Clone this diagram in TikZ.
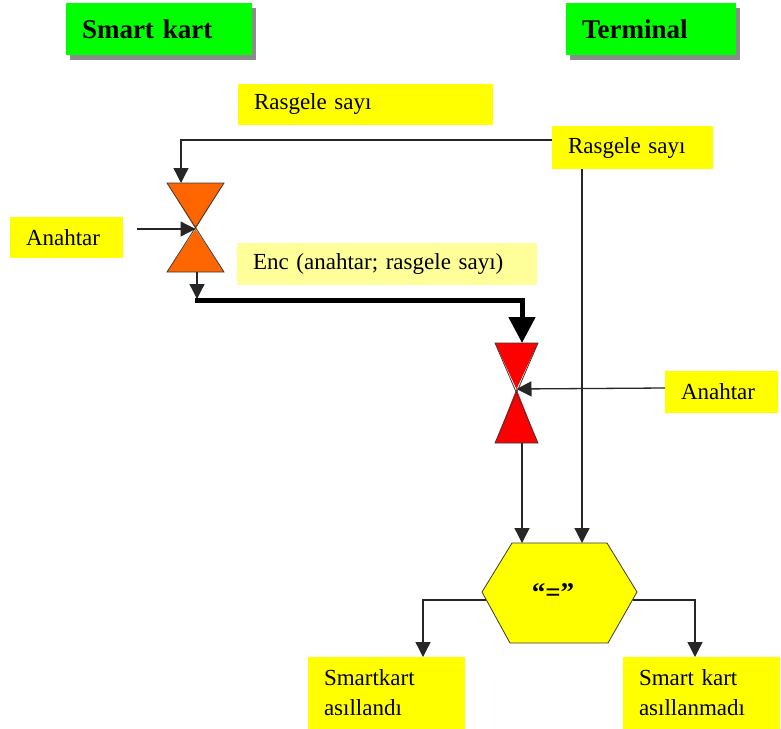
\documentclass[tikz,border=0pt]{standalone}
\usepackage{fontspec}
\setmainfont{Liberation Serif}
\usetikzlibrary{arrows.meta,calc,shadows}
\definecolor{titlegreen}{HTML}{00FF00}
\definecolor{labelyellow}{HTML}{FFFF00}
\definecolor{paleyellow}{HTML}{FFFF99}
\definecolor{encorange}{HTML}{FF6600}
\definecolor{decred}{HTML}{FF0000}
\definecolor{outline}{HTML}{3A3A3A}
\begin{document}
\begin{tikzpicture}[x=1pt,y=-1pt,
  title/.style={anchor=north west, fill=titlegreen, inner xsep=16pt, inner ysep=0pt,
    outer sep=0pt, align=left, font=\fontsize{27}{30}\selectfont\bfseries,
    drop shadow={shadow xshift=4pt, shadow yshift=-5pt, fill=gray!90, opacity=1}},
  label/.style={anchor=north west, fill=labelyellow, inner xsep=16pt, inner ysep=0pt,
    outer sep=0pt, align=left, font=\fontsize{23}{30}\selectfont},
  conn/.style={line width=1.3pt, draw=black!85, -{Triangle[width=15pt,length=15pt]}},
  bold/.style={line width=5pt, draw=black, -{Triangle[width=26pt,length=26pt]}},
  gate/.style={draw=outline, line width=0.8pt, line join=miter}
]
\useasboundingbox (0,0) rectangle (781,728);

% column titles
\node[title, text width=154pt, minimum height=52pt] (smart) at (66,3) {Smart kart};
\node[title, text width=138pt, minimum height=52pt] (term) at (566,3) {Terminal};

% labels
\node[label, text width=223pt, minimum height=41pt] (rnd1) at (238,84) {Rasgele sayı};
\node[label, text width=129pt, minimum height=43pt] (rnd2) at (552,126) {Rasgele sayı};
\node[label, text width=81pt, minimum height=41pt] (key1) at (10,217) {Anahtar};
\node[label, fill=paleyellow, text width=268pt, minimum height=42pt] (enc) at (237,243) {Enc (anahtar; rasgele sayı)};
\node[label, text width=81pt, minimum height=42pt] (key2) at (665,371) {Anahtar};
\node[label, text width=125pt, minimum height=72pt] (ok) at (308,657) {Smartkart\\asıllandı};
\node[label, text width=125pt, minimum height=72pt] (nok) at (623,657) {Smart kart\\asıllanmadı};

% encryption gate (smart card)
\coordinate (encA-c) at (195.5,229);
\coordinate (encA-in) at (181,183);
\coordinate (encA-out) at (197,272);
\fill[encorange] (167,183) -- (224,183) -- (encA-c) -- cycle;
\fill[encorange] (167,272) -- (224,272) -- (encA-c) -- cycle;
\draw[gate] (167,183) -- (224,183) -- (167,272) -- (224,272) -- cycle;

% decryption gate (terminal)
\coordinate (decB-c) at (516.5,389);
\coordinate (decB-in) at (522,343);
\coordinate (decB-out) at (522,443);
\fill[decred] (495,343) -- (538,343) -- (decB-c) -- cycle;
\fill[decred] (495,443) -- (538,443) -- (decB-c) -- cycle;
\draw[gate] (495,343) -- (538,343) -- (495,443) -- (538,443) -- cycle;

% comparison hexagon
\coordinate (cmpL) at (482,592);
\coordinate (cmpR) at (637,592);
\filldraw[fill=labelyellow, gate] (512,543) -- (607,543) -- (cmpR) -- (608,643) -- (510,643) -- (cmpL) -- cycle;
\node[font=\fontsize{27}{28}\selectfont\bfseries] (cmp) at (553,593) {“=”};
\coordinate (cmp-a) at (522,543);
\coordinate (cmp-b) at (582,543);
\coordinate (cmp-lo) at (486,600);
\coordinate (cmp-ro) at (633,600);

% connectors
\coordinate (rnd2-w) at ($(rnd2.north west)+(0,14)$);
\draw[conn] (rnd2-w) -| (encA-in);
\coordinate (key1-e) at ($(key1.north east)+(14,12)$);
\draw[conn] (key1-e) -- (encA-c);
\coordinate (encA-drop) at (197,299);
\draw[conn] (encA-out) -- (encA-drop);
\draw[bold] (194.5,300) -| (decB-in);
\coordinate (key2-w) at ($(key2.north west)+(0,17)$);
\draw[conn] (key2-w) -- (decB-c);
\draw[conn] (rnd2.south -| cmp-b) -- (cmp-b);
\draw[conn] (decB-out) -- (cmp-a);
\draw[conn] (cmp-lo) -| (ok.north -| 423,0);
\draw[conn] (cmp-ro) -| (nok.north -| 695,0);
\end{tikzpicture}
\end{document}
